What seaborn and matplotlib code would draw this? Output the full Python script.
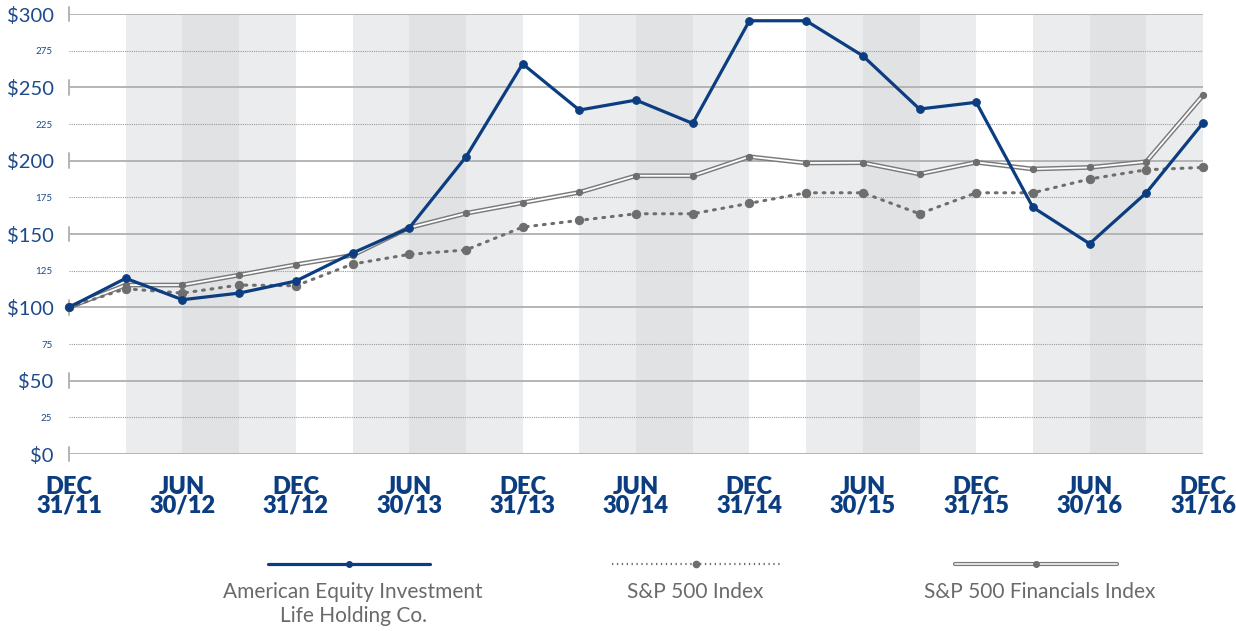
import matplotlib
matplotlib.use("Agg")
import matplotlib.pyplot as plt
from matplotlib.lines import Line2D
import seaborn as sns
import pandas as pd
import numpy as np

# ---- data (quarterly, Dec 31 2011 .. Dec 31 2016) ----
quarters = list(range(21))
ael = [100, 119.8, 105.2, 109.7, 117.9, 137.0, 154.1, 202.5, 266.0, 234.5, 241.3,
       225.4, 295.4, 295.4, 271.5, 235.2, 239.8, 168.2, 143.4, 178.1, 225.7]
sp500 = [100, 112.7, 109.7, 115.2, 114.7, 129.5, 136.1, 139.1, 154.7, 159.3, 163.8,
         163.8, 170.9, 178.1, 178.1, 163.8, 178.1, 178.1, 187.5, 193.8, 195.4]
spfin = [100, 115.2, 115.2, 122.0, 129.1, 135.5, 154.3, 164.1, 171.3, 178.4, 189.7,
         189.7, 202.7, 198.4, 198.6, 190.9, 198.9, 194.3, 195.4, 199.3, 244.5]
xtick_pos = [0, 2, 4, 6, 8, 10, 12, 14, 16, 18, 20]
xtick_labels = ["DEC\n31/11", "JUN\n30/12", "DEC\n31/12", "JUN\n30/13", "DEC\n31/13",
                "JUN\n30/14", "DEC\n31/14", "JUN\n30/15", "DEC\n31/15", "JUN\n30/16",
                "DEC\n31/16"]
ymajor = [0, 50, 100, 150, 200, 250, 300]
ymajor_labels = ["$0", "$50", "$100", "$150", "$200", "$250", "$300"]
yminor = [25, 75, 125, 175, 225, 275]
yminor_labels = ["25", "75", "125", "175", "225", "275"]
names = ["American Equity Investment\nLife Holding Co.", "S&P 500 Index",
         "S&P 500 Financials Index"]

df = pd.DataFrame({"q": quarters, "ael": ael, "sp500": sp500, "spfin": spfin})

sns.set_theme(style="white")
plt.rcParams["font.family"] = ["Lato", "DejaVu Sans"]

BLUE = "#0b3d80"
LBLUE = "#1c4a8a"
GRAY = "#6e6e6e"
TXT = "#6a6a6a"

W, H = 1236, 631
fig = plt.figure(figsize=(W / 100, H / 100), dpi=100)
x0, x1, y0, y1 = 69, 1203, 454, 14
ax = fig.add_axes([x0 / W, 1 - y0 / H, (x1 - x0) / W, (y0 - y1) / H])
ax.set_xlim(0, 20)
ax.set_ylim(0, 300)
for s in ax.spines.values():
    s.set_visible(False)

# quarterly background bands
band_cols = [None, "#ebecee", "#e1e2e4", "#ebecee"]
for q in range(20):
    c = band_cols[q % 4]
    if c:
        ax.axvspan(q, q + 1, color=c, lw=0, zorder=0)

# grid lines
for v in ymajor:
    ax.axhline(v, color="#b4b4b6", lw=1.4, zorder=1)
    ax.plot([0, 0], [v - 5, v + 5], color="#b4b4b6", lw=1.4, clip_on=False, zorder=1)
for v in yminor:
    ax.axhline(v, color="#9a9a9a", lw=0.8, ls=(0, (1, 1)), zorder=1)

# S&P 500 Financials (double line)
sns.lineplot(data=df, x="q", y="spfin", ax=ax, color="#7a7a7a", lw=3.4, zorder=3,
             clip_on=False)
sns.lineplot(data=df, x="q", y="spfin", ax=ax, color="white", lw=1.3, zorder=3,
             clip_on=False)
sns.lineplot(data=df, x="q", y="spfin", ax=ax, color="none", lw=0, marker="o",
             markersize=4.5, markerfacecolor=GRAY, markeredgecolor=GRAY, zorder=4,
             clip_on=False)
# S&P 500 (dotted)
sns.lineplot(data=df, x="q", y="sp500", ax=ax, color=GRAY, lw=2.2,
             ls=(0, (0.6, 2.2)), dash_capstyle="round", zorder=3, clip_on=False)
sns.lineplot(data=df, x="q", y="sp500", ax=ax, color="none", lw=0, marker="o",
             markersize=6, markerfacecolor=GRAY, markeredgecolor=GRAY, zorder=4,
             clip_on=False)
# American Equity
sns.lineplot(data=df, x="q", y="ael", ax=ax, color=BLUE, lw=2.3, marker="o",
             markersize=5.5, markerfacecolor=BLUE, markeredgecolor=BLUE, zorder=5,
             clip_on=False)

ax.set_xlabel("")
ax.set_ylabel("")
ax.set_xticks(xtick_pos)
ax.set_xticklabels(xtick_labels, fontsize=17, fontweight="heavy", color=BLUE,
                   linespacing=0.8)
ax.set_yticks(ymajor)
ax.set_yticklabels(ymajor_labels, fontsize=14.5, color=LBLUE)
ax.set_yticks(yminor, minor=True)
ax.set_yticklabels(yminor_labels, minor=True, fontsize=7, color=LBLUE)
ax.tick_params(axis="y", which="major", length=0, pad=11)
ax.tick_params(axis="y", which="minor", length=0, pad=12)
ax.tick_params(axis="x", length=0, pad=16)
ax.grid(False)

# legend (drawn manually below the plot)
def fx(px):
    return px / W

def fy(py):
    return 1 - py / H

ly = 564
fig.add_artist(Line2D([fx(268), fx(430)], [fy(ly), fy(ly)], color=BLUE, lw=2.3,
                      transform=fig.transFigure))
fig.add_artist(Line2D([fx(349)], [fy(ly)], color=BLUE, marker="o", markersize=4,
                      transform=fig.transFigure))
fig.add_artist(Line2D([fx(612), fx(780)], [fy(ly), fy(ly)], color=GRAY, lw=1.6,
                      ls=(0, (0.6, 1.6)), transform=fig.transFigure))
fig.add_artist(Line2D([fx(696)], [fy(ly)], color=GRAY, marker="o", markersize=4.5,
                      transform=fig.transFigure))
fig.add_artist(Line2D([fx(955), fx(1117)], [fy(ly), fy(ly)], color="#7a7a7a", lw=3.0,
                      transform=fig.transFigure))
fig.add_artist(Line2D([fx(955), fx(1117)], [fy(ly), fy(ly)], color="white", lw=1.1,
                      transform=fig.transFigure))
fig.add_artist(Line2D([fx(1036)], [fy(ly)], color=GRAY, marker="o", markersize=4,
                      transform=fig.transFigure))
fig.text(fx(353), fy(582), names[0], ha="center", va="top", fontsize=15, color=TXT,
         linespacing=1.25)
fig.text(fx(695), fy(582), names[1], ha="center", va="top", fontsize=15, color=TXT)
fig.text(fx(1040), fy(582), names[2], ha="center", va="top", fontsize=15, color=TXT)

fig.savefig("out.png", dpi=100)
